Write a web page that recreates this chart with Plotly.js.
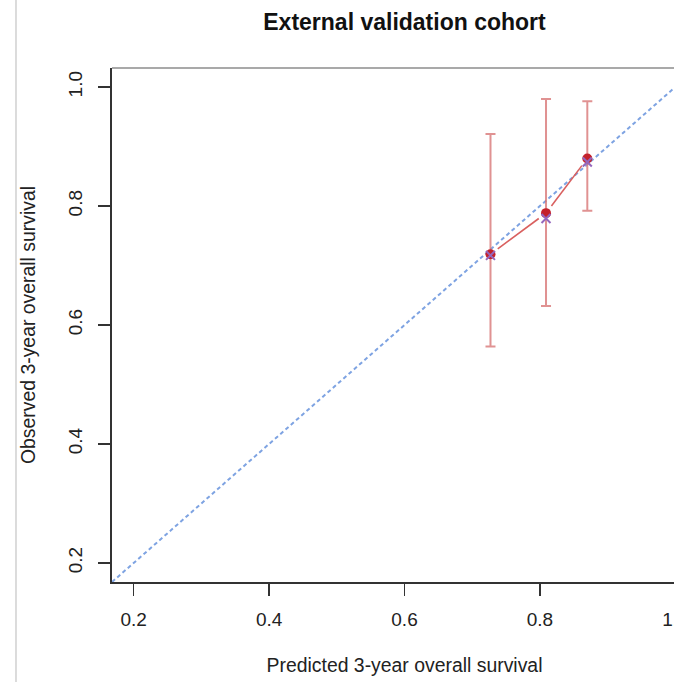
<!DOCTYPE html>
<html>
<head>
<meta charset="utf-8">
<script src="https://cdn.plot.ly/plotly-3.0.1.min.js"></script>
<style>
  html, body { margin: 0; padding: 0; overflow: hidden; background: #fff; }
  #chart { width: 720px; height: 682px; }
</style>
</head>
<body>
<div id="chart"></div>
<script>
// ---- data ----
const predicted = [0.727, 0.809, 0.870];
const observed  = [0.719, 0.788, 0.880];
const corrected = [0.717, 0.779, 0.874];
const ciLower   = [0.564, 0.632, 0.792];
const ciUpper   = [0.921, 0.980, 0.976];
const tickVals  = [0.2, 0.4, 0.6, 0.8, 1.0];
const tickText  = ["0.2", "0.4", "0.6", "0.8", "1.0"];
const axisRange = [0.168, 1.032];

const titleText = "External validation cohort";
const xTitle = "Predicted 3-year overall survival";
const yTitle = "Observed 3-year overall survival";

// ---- layout geometry ----
const W = 720, H = 682;
const M = { l: 112, r: 23, t: 68, b: 100 };
const plotW = W - M.l - M.r, plotH = H - M.t - M.b;
const span = axisRange[1] - axisRange[0];
const pxX = plotW / span, pxY = plotH / span;

// connecting line with gaps around points (R type="b")
const gap = 9;
const segX = [], segY = [];
for (let i = 0; i < predicted.length - 1; i++) {
  const dx = (predicted[i+1] - predicted[i]);
  const dy = (observed[i+1] - observed[i]);
  const len = Math.hypot(dx * pxX, dy * pxY);
  const t = gap / len;
  segX.push(predicted[i] + t * dx, predicted[i+1] - t * dx, null);
  segY.push(observed[i] + t * dy, observed[i+1] - t * dy, null);
}

const font = "Liberation Sans, Arial, Helvetica, sans-serif";

const traces = [
  { // ideal line
    x: axisRange, y: axisRange, mode: "lines", type: "scatter",
    line: { color: "#7ea3e2", width: 2, dash: "4px,3px" },
    hoverinfo: "skip", showlegend: false
  },
  { // error bars
    x: predicted, y: observed, mode: "markers", type: "scatter",
    marker: { size: 1, color: "rgba(0,0,0,0)" },
    error_y: {
      type: "data", symmetric: false,
      array: observed.map((v, i) => ciUpper[i] - v),
      arrayminus: observed.map((v, i) => v - ciLower[i]),
      color: "rgba(214,110,110,0.75)", thickness: 2, width: 5
    },
    showlegend: false
  },
  { // connecting line
    x: segX, y: segY, mode: "lines", type: "scatter",
    line: { color: "#d9605f", width: 1.6 },
    connectgaps: false, showlegend: false, hoverinfo: "skip"
  },
  { // observed
    x: predicted, y: observed, mode: "markers", type: "scatter",
    marker: { symbol: "circle", size: 10, color: "#c4212b" },
    showlegend: false
  },
  { // bias corrected
    x: predicted, y: corrected, mode: "markers", type: "scatter",
    marker: { symbol: "x-thin-open", size: 9, line: { color: "#3a3aff", width: 2 } },
    showlegend: false
  }
];

const layout = {
  width: W, height: H,
  margin: M,
  paper_bgcolor: "#fff", plot_bgcolor: "#fff",
  font: { family: font, color: "#111", size: 19 },
  showlegend: false,
  title: {
    text: "<b>" + titleText + "</b>",
    font: { family: font, size: 23, color: "#111" },
    x: 0.5, xref: "paper", xanchor: "center",
    y: 1 - 22 / H, yref: "container", yanchor: "middle"
  },
  xaxis: {
    range: axisRange, tickvals: tickVals, ticktext: tickText,
    showgrid: false, zeroline: false,
    showline: true, linecolor: "#333", linewidth: 2,
    ticks: "outside", ticklen: 12, tickwidth: 1.5, tickcolor: "#333",
    ticklabelstandoff: 7,
    tickfont: { size: 19, color: "#222" },
    title: { text: xTitle, font: { size: 19.4, color: "#222" }, standoff: 30 },
    automargin: false
  },
  yaxis: {
    range: axisRange, tickvals: tickVals, ticktext: tickText,
    showgrid: false, zeroline: false,
    showline: true, linecolor: "#333", linewidth: 2,
    ticks: "outside", ticklen: 12, tickwidth: 1.5, tickcolor: "#333",
    ticklabelstandoff: 8,
    tickangle: -90,
    tickfont: { size: 19, color: "#222" },
    title: { text: yTitle, font: { size: 19.4, color: "#222" }, standoff: 25 },
    automargin: false
  },
  shapes: [
    { type: "line", xref: "paper", yref: "paper", x0: 0, x1: 1, y0: 1, y1: 1,
      line: { color: "#555", width: 1.2 } },
    { type: "line", xref: "paper", yref: "paper",
      x0: (16 - M.l) / plotW, x1: (16 - M.l) / plotW,
      y0: -M.b / plotH, y1: 1 + M.t / plotH,
      line: { color: "#c4c4c4", width: 1.2 } }
  ]
};

Plotly.newPlot("chart", traces, layout, { staticPlot: true, displayModeBar: false });
</script>
</body>
</html>
